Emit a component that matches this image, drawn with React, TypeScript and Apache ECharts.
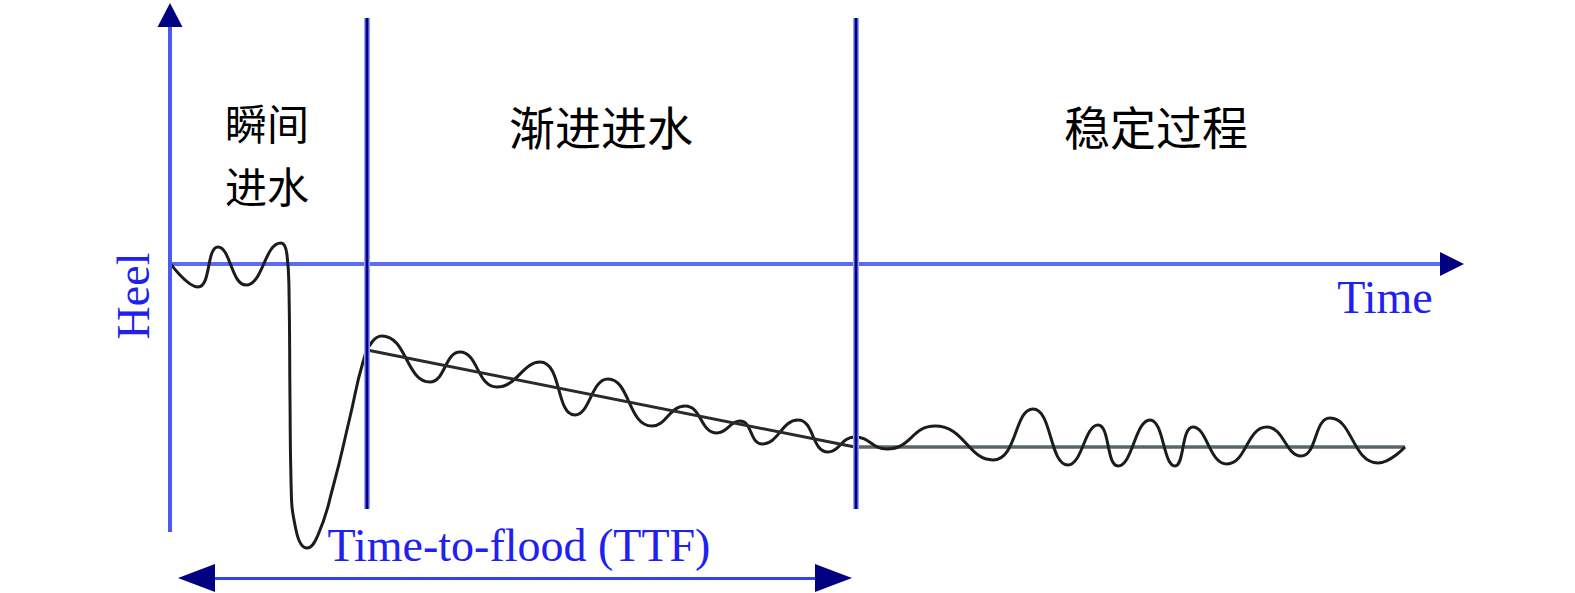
import React, { useEffect, useRef } from "react";
import * as echarts from "echarts";

// Schematic units: time (t) and heel (h). 1 unit of each = 10 px in the drawing.
const heelResponse: [number, number][] = [
  [0, 0.1], [2.8, -2.3], [4.8, 1.7], [7.6, -2.1], [11.1, 2.1], [11.7, 0.9],
  [11.9, -2.6], [12.0, -13.6], [12.1, -21.6], [12.6, -26.6], [13.7, -28.4],
  [14.8, -27.1], [16.3, -22.3], [18.0, -15.3], [19.3, -9.8], [20.2, -7.8],
  [21.2, -7.2], [26.0, -11.8], [29.0, -8.8], [32.7, -12.3], [37.0, -9.8],
  [40.5, -15.1], [43.8, -11.5], [48.2, -16.2], [51.5, -14.2], [54.7, -16.9],
  [57.0, -15.7], [59.2, -18.0], [62.8, -15.6], [65.8, -18.8], [68.5, -17.3],
  [71.7, -18.5], [76.5, -16.2], [82.3, -19.6], [86.3, -14.5], [89.8, -20.1],
  [92.8, -16.1], [94.8, -20.2], [98.0, -15.6], [100.5, -20.2], [102.3, -16.3],
  [105.7, -20.0], [109.7, -16.3], [113.1, -19.2], [116.0, -15.4], [120.8, -19.9],
  [123.5, -18.3],
];
const progressiveTrend: [number, number][] = [[19.7, -8.6], [68.5, -18.3]];
const steadyTrend: [number, number][] = [[68.5, -18.3], [123.5, -18.3]];
const stageBoundaries: number[] = [19.7, 68.6];
const boundaryTop = 24.6;
const boundaryBottom = -24.5;
const heelAxisRange: [number, number] = [-26.8, 24.9];
const ttfRange: [number, number] = [2.65, 66.35];
const ttfLevel = -31.4;

const stageLabels = ["瞬间", "进水", "渐进进水", "稳定过程"];
const heelLabel = "Heel";
const timeLabel = "Time";
const ttfLabel = "Time-to-flood (TTF)";

const X_MIN = 0, X_MAX = 128.2, Y_MIN = -32.9, Y_MAX = 26.1;

export default function App() {
  const ref = useRef<HTMLDivElement>(null);
  useEffect(() => {
    if (!ref.current) return;
    const chart = echarts.init(ref.current, undefined, { renderer: "svg" });
    const navy = "#000080";
    const latinFont = '46px "Liberation Serif", "Times New Roman", serif';
    const cjkFont = '46px "Noto Sans CJK SC", sans-serif';
    const cjkFontSmall = '42px "Noto Sans CJK SC", sans-serif';
    const textBlue = "#2020f0";
    const navyStyle = { color: navy, width: 3, type: "solid" };

    const boundarySeries: any[] = [];
    stageBoundaries.forEach((t, i) => {
      boundarySeries.push({
        type: "line",
        name: "halo" + i,
        data: [[t, boundaryTop], [t, boundaryBottom]],
        showSymbol: false,
        lineStyle: { color: "#9aa2f2", width: 6 },
        z: 4,
        silent: true,
      });
      boundarySeries.push({
        type: "line",
        name: "boundary" + i,
        data: [[t, boundaryTop], [t, boundaryBottom]],
        showSymbol: false,
        lineStyle: { color: "#00008f", width: 3 },
        z: 5,
        silent: true,
      });
    });

    const textStyle = (text: string, font: string, fill: string) => ({
      text, font, fill,
      align: "center", verticalAlign: "middle",
      textAlign: "center", textVerticalAlign: "middle",
    });

    chart.setOption({
      animation: false,
      grid: { left: 170, width: 1282, top: 3, height: 590, containLabel: false },
      xAxis: {
        type: "value",
        min: X_MIN,
        max: X_MAX,
        axisLine: {
          onZero: true,
          lineStyle: { color: "#5b6cf2", width: 4 },
        },
        axisTick: { show: false },
        axisLabel: { show: false },
        splitLine: { show: false },
      },
      yAxis: {
        type: "value",
        min: Y_MIN,
        max: Y_MAX,
        axisLine: { show: false },
        axisTick: { show: false },
        axisLabel: { show: false },
        splitLine: { show: false },
      },
      series: [
        {
          type: "line",
          name: "heel",
          data: heelResponse,
          smooth: 0.5,
          showSymbol: false,
          lineStyle: { color: "#1c1c1c", width: 3 },
          z: 3,
          clip: false,
        },
        {
          type: "line",
          name: "progressive",
          data: progressiveTrend,
          showSymbol: false,
          lineStyle: { color: "#2a2a2a", width: 3 },
          z: 3,
        },
        {
          type: "line",
          name: "steady",
          data: steadyTrend,
          showSymbol: false,
          lineStyle: { color: "#5a666c", width: 3.5 },
          z: 2,
        },
        ...boundarySeries,
        {
          type: "line",
          name: "axes",
          data: [],
          z: 6,
          markLine: {
            silent: true,
            animation: false,
            label: { show: false },
            symbol: "none",
            lineStyle: { type: "solid" },
            data: [
              [
                { coord: [X_MIN, heelAxisRange[0]], symbol: "none", lineStyle: { color: "#4a5cf0", width: 4, type: "solid" } },
                { coord: [X_MIN, heelAxisRange[1]], symbol: "none" },
              ],
              [
                { coord: [X_MIN, heelAxisRange[1] - 1], symbol: "none", lineStyle: navyStyle },
                { coord: [X_MIN, heelAxisRange[1]], symbol: "triangle", symbolSize: [25, 24] },
              ],
              [
                { coord: [X_MAX - 1, 0], symbol: "none", lineStyle: navyStyle },
                { coord: [X_MAX, 0], symbol: "triangle", symbolSize: [24, 24] },
              ],
              [
                { coord: [ttfRange[0], ttfLevel], symbol: "none", lineStyle: { color: "#3344ee", width: 3, type: "solid" } },
                { coord: [ttfRange[1], ttfLevel], symbol: "none" },
              ],
              [
                { coord: [ttfRange[0] + 1, ttfLevel], symbol: "none", lineStyle: navyStyle },
                { coord: [ttfRange[0], ttfLevel], symbol: "triangle", symbolSize: [28, 37] },
              ],
              [
                { coord: [ttfRange[1] - 1, ttfLevel], symbol: "none", lineStyle: navyStyle },
                { coord: [ttfRange[1], ttfLevel], symbol: "triangle", symbolSize: [28, 37] },
              ],
            ],
          },
        },
      ],
      graphic: [
        { type: "text", x: 267, y: 121, style: textStyle(stageLabels[0], cjkFontSmall, "#000") },
        { type: "text", x: 267, y: 184, style: textStyle(stageLabels[1], cjkFontSmall, "#000") },
        { type: "text", x: 601, y: 125, style: textStyle(stageLabels[2], cjkFont, "#000") },
        { type: "text", x: 1156, y: 125, style: textStyle(stageLabels[3], cjkFont, "#000") },
        { type: "text", x: 133, y: 296, rotation: Math.PI / 2, style: textStyle(heelLabel, latinFont, textBlue) },
        { type: "text", x: 1385, y: 297, style: textStyle(timeLabel, latinFont, textBlue) },
        { type: "text", x: 519, y: 545, z: 10, style: textStyle(ttfLabel, latinFont, textBlue) },
      ],
    });
    return () => chart.dispose();
  }, []);
  return (
    <div
      ref={ref}
      style={{ position: "fixed", left: 0, top: 0, width: 1575, height: 593, background: "#fff" }}
    />
  );
}
